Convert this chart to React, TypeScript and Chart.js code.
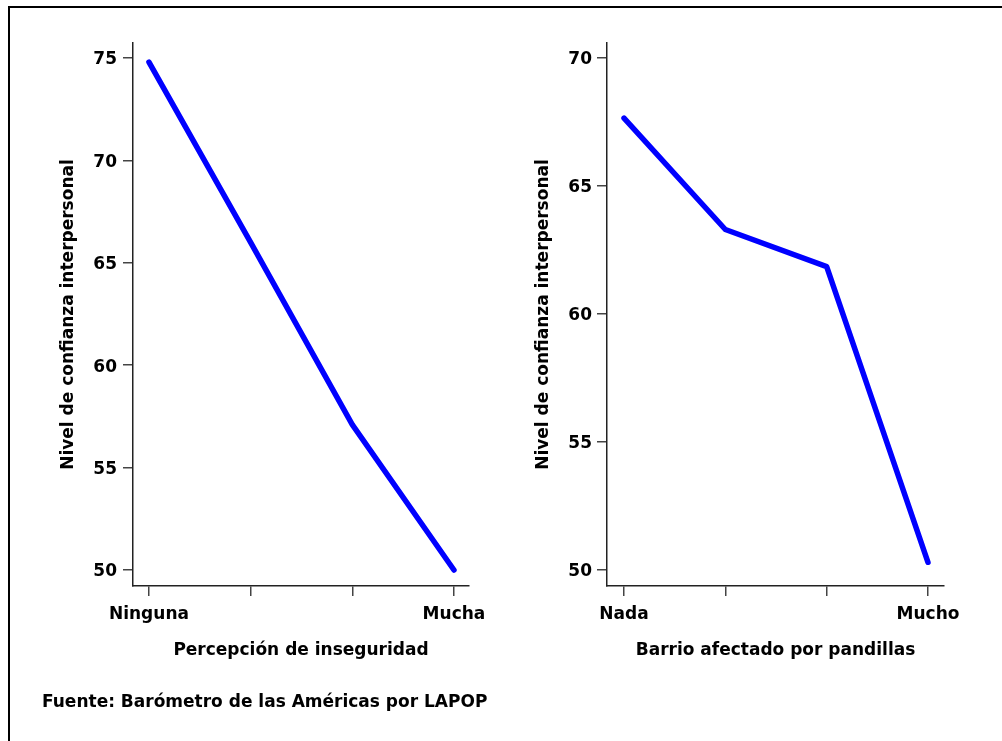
import React, { useEffect, useRef } from "react";
import { Chart, registerables } from "chart.js";

Chart.register(...registerables);

// ---- Data ----
const leftCategories = ["Ninguna", "", "", "Mucha"];
const leftValues = [74.8, 66.0, 57.1, 50.0];
const leftYTicks = [50, 55, 60, 65, 70, 75];

const rightCategories = ["Nada", "", "", "Mucho"];
const rightValues = [67.65, 63.3, 61.85, 50.3];
const rightYTicks = [50, 55, 60, 65, 70];

const yTitle = "Nivel de confianza interpersonal";
const leftXTitle = "Percepción de inseguridad";
const rightXTitle = "Barrio afectado por pandillas";
const sourceText = "Fuente: Barómetro de las Américas por LAPOP";

const FONT_FAMILY = '"DejaVu Sans", "Liberation Sans", Arial, sans-serif';
const PAGE_H = 741;
const AREA_TOP = 43;
const AREA_BOTTOM = 586;
const X_AXIS_H = 100;

type PanelProps = {
  categories: string[];
  values: number[];
  yTicks: number[];
  xTitle: string;
  left: number;
  width: number;
  yAxisWidth: number;
  rightPad: number;
  xMin: number;
  xMax: number;
  yMin: number;
  yMax: number;
  yTickPad: number;
  yTitlePad: number;
};

function Panel(p: PanelProps) {
  const ref = useRef<HTMLCanvasElement | null>(null);
  useEffect(() => {
    if (!ref.current) return;
    const font = { family: FONT_FAMILY, size: 17, weight: "bold" as const };
    const chart = new Chart(ref.current, {
      type: "line",
      data: {
        datasets: [
          {
            data: p.values.map((v, i) => ({ x: i, y: v })),
            borderColor: "#0000ff",
            borderWidth: 5.5,
            pointRadius: 0,
            borderCapStyle: "round",
            borderJoinStyle: "round",
            tension: 0,
          },
        ],
      },
      options: {
        animation: false,
        responsive: false,
        maintainAspectRatio: false,
        devicePixelRatio: 1,
        layout: {
          padding: {
            left: 0,
            top: AREA_TOP,
            right: p.rightPad,
            bottom: PAGE_H - AREA_BOTTOM - X_AXIS_H,
          },
        },
        plugins: { legend: { display: false }, tooltip: { enabled: false } },
        scales: {
          x: {
            type: "linear",
            min: p.xMin,
            max: p.xMax,
            afterBuildTicks: (a: any) => {
              a.ticks = p.categories.map((_, i) => ({ value: i }));
            },
            afterFit: (a: any) => {
              a.height = X_AXIS_H;
            },
            ticks: {
              callback: (v: any) => p.categories[Number(v)] ?? "",
              autoSkip: false,
              maxRotation: 0,
              minRotation: 0,
              padding: 8,
              color: "#000",
              font,
            },
            grid: {
              drawOnChartArea: false,
              drawTicks: true,
              tickLength: 10,
              color: "#444",
              lineWidth: 1.5,
            },
            border: { display: true, color: "#222", width: 1.5 },
            title: {
              display: true,
              text: p.xTitle,
              color: "#000",
              font,
              padding: { top: 0, bottom: 25 },
            },
          },
          y: {
            type: "linear",
            min: p.yMin,
            max: p.yMax,
            afterBuildTicks: (a: any) => {
              a.ticks = p.yTicks.map((v) => ({ value: v }));
            },
            afterFit: (a: any) => {
              a.width = p.yAxisWidth;
            },
            ticks: {
              padding: p.yTickPad,
              labelOffset: 2,
              color: "#000",
              font,
            },
            grid: {
              drawOnChartArea: false,
              drawTicks: true,
              tickLength: 10,
              color: "#444",
              lineWidth: 1.5,
            },
            border: { display: true, color: "#222", width: 1.5 },
            title: {
              display: true,
              text: yTitle,
              color: "#000",
              font,
              padding: { top: p.yTitlePad, bottom: 0 },
            },
          },
        },
      },
    });
    return () => chart.destroy();
  }, []);
  return (
    <canvas
      ref={ref}
      width={p.width}
      height={PAGE_H}
      style={{
        position: "absolute",
        left: p.left,
        top: 0,
        width: p.width,
        height: PAGE_H,
      }}
    />
  );
}

export default function App() {
  return (
    <div
      style={{
        position: "fixed",
        left: 0,
        top: 0,
        width: 1002,
        height: PAGE_H,
        overflow: "hidden",
        background: "#fff",
      }}
    >
      <div
        style={{
          position: "absolute",
          left: 8,
          top: 6,
          width: 1100,
          height: 900,
          border: "2px solid #000",
          boxSizing: "border-box",
        }}
      />
      <Panel
        categories={leftCategories}
        values={leftValues}
        yTicks={leftYTicks}
        xTitle={leftXTitle}
        left={0}
        width={530}
        yAxisWidth={133}
        rightPad={530 - 469}
        xMin={-0.157}
        xMax={3.148}
        yMin={49.218}
        yMax={75.733}
        yTickPad={6}
        yTitlePad={58}
      />
      <Panel
        categories={rightCategories}
        values={rightValues}
        yTicks={rightYTicks}
        xTitle={rightXTitle}
        left={490}
        width={512}
        yAxisWidth={117}
        rightPad={512 - 944 + 490}
        xMin={-0.168}
        xMax={3.158}
        yMin={49.374}
        yMax={70.586}
        yTickPad={5}
        yTitlePad={43}
      />
      <div
        style={{
          position: "absolute",
          left: 42,
          top: 691,
          font: `bold 17px ${FONT_FAMILY}`,
          lineHeight: "20px",
          color: "#000",
          whiteSpace: "nowrap",
        }}
      >
        {sourceText}
      </div>
    </div>
  );
}
